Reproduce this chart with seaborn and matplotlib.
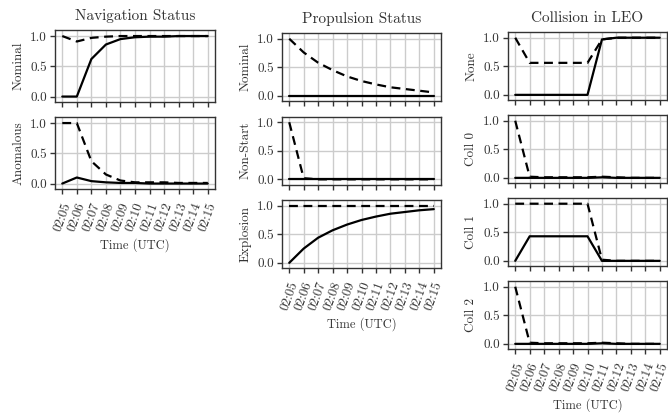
import numpy as np
import pandas as pd
import matplotlib
matplotlib.use("Agg")
import matplotlib.pyplot as plt
import seaborn as sns

# time axis
times = ["02:05", "02:06", "02:07", "02:08", "02:09", "02:10",
         "02:11", "02:12", "02:13", "02:14", "02:15"]

# navigation status
nav_nominal_solid = [0.0, 0.0, 0.62, 0.86, 0.95, 0.98, 0.99, 0.99, 1.0, 1.0, 1.0]
nav_nominal_dash = [1.0, 0.91, 0.97, 0.99, 1.0, 1.0, 1.0, 1.0, 1.0, 1.0, 1.0]
nav_anom_solid = [0.0, 0.1, 0.04, 0.02, 0.01, 0.01, 0.0, 0.0, 0.0, 0.0, 0.0]
nav_anom_dash = [1.0, 1.0, 0.37, 0.15, 0.05, 0.02, 0.02, 0.02, 0.01, 0.01, 0.01]

# propulsion status
prop_nominal_solid = [0.0] * 11
prop_nominal_dash = [1.0, 0.76, 0.58, 0.45, 0.34, 0.26, 0.2, 0.15, 0.12, 0.09, 0.06]
prop_nonstart_solid = [0.0] * 11
prop_nonstart_dash = [1.0, 0.02, 0.0, 0.0, 0.0, 0.0, 0.0, 0.0, 0.0, 0.0, 0.0]
prop_expl_solid = [0.0, 0.25, 0.44, 0.57, 0.67, 0.75, 0.81, 0.86, 0.89, 0.92, 0.94]
prop_expl_dash = [1.0] * 11

# collision in LEO
coll_none_solid = [0.0, 0.0, 0.0, 0.0, 0.0, 0.0, 0.97, 1.0, 1.0, 1.0, 1.0]
coll_none_dash = [1.0, 0.56, 0.56, 0.56, 0.56, 0.56, 0.97, 1.0, 1.0, 1.0, 1.0]
coll0_solid = [0.0, 0.0, 0.0, 0.0, 0.0, 0.0, 0.01, 0.0, 0.0, 0.0, 0.0]
coll0_dash = [1.0, 0.02, 0.01, 0.01, 0.01, 0.01, 0.02, 0.01, 0.0, 0.0, 0.0]
coll1_solid = [0.0, 0.43, 0.43, 0.43, 0.43, 0.43, 0.0, 0.0, 0.0, 0.0, 0.0]
coll1_dash = [1.0, 1.0, 1.0, 1.0, 1.0, 1.0, 0.02, 0.0, 0.0, 0.0, 0.0]
coll2_solid = [0.0, 0.0, 0.0, 0.0, 0.0, 0.0, 0.01, 0.0, 0.0, 0.0, 0.0]
coll2_dash = [1.0, 0.02, 0.01, 0.01, 0.01, 0.01, 0.02, 0.01, 0.0, 0.0, 0.0]

columns = [
    ("Navigation Status", [("Nominal", nav_nominal_solid, nav_nominal_dash),
                           ("Anomalous", nav_anom_solid, nav_anom_dash)]),
    ("Propulsion Status", [("Nominal", prop_nominal_solid, prop_nominal_dash),
                           ("Non-Start", prop_nonstart_solid, prop_nonstart_dash),
                           ("Explosion", prop_expl_solid, prop_expl_dash)]),
    ("Collision in LEO", [("None", coll_none_solid, coll_none_dash),
                          ("Coll 0", coll0_solid, coll0_dash),
                          ("Coll 1", coll1_solid, coll1_dash),
                          ("Coll 2", coll2_solid, coll2_dash)]),
]

sns.set_theme(style="ticks")
plt.rcParams['font.family'] = ['cmr10', 'DejaVu Serif']
plt.rcParams['axes.formatter.use_mathtext'] = True
plt.rcParams['axes.unicode_minus'] = False

W, H = 668, 415
fig = plt.figure(figsize=(W / 100, H / 100), dpi=100)

# pixel layout per column: left, right, first top, height, pitch
layout = [(55, 215, 30, 72, 87), (282, 441, 33, 68, 83.5), (508, 667, 32, 68, 83)]

idx = np.arange(len(times))
for (title, rows), (l, r, top, h, pitch) in zip(columns, layout):
    n = len(rows)
    for i, (name, solid, dash) in enumerate(rows):
        t = top + i * pitch
        ax = fig.add_axes([l / W, 1 - (t + h) / H, (r - l) / W, h / H])
        df = pd.DataFrame({"t": idx, "solid": solid, "dash": dash})
        sns.lineplot(data=df, x="t", y="solid", ax=ax, color="black", lw=1.6)
        sns.lineplot(data=df, x="t", y="dash", ax=ax, color="black", lw=1.6,
                     linestyle=(0, (4, 2.5)))
        ax.set_xlim(-0.5, 10.5)
        ax.set_ylim(-0.09, 1.1)
        ax.set_yticks([0.0, 0.5, 1.0])
        ax.set_yticklabels(["0.0", "0.5", "1.0"])
        ax.set_xticks(idx)
        ax.grid(True, color="#cccccc", lw=1.0)
        for s in ax.spines.values():
            s.set_color("#333333")
            s.set_linewidth(1.0)
        ax.tick_params(axis="both", labelsize=9.5, length=3.5, width=1.0,
                       color="#333333", labelcolor="#333333", pad=2.5)
        ax.tick_params(axis="x", pad=5)
        ax.set_ylabel(name, fontsize=9.5, color="#333333", labelpad=4)
        if i == n - 1:
            ax.set_xticklabels(times, rotation=70, fontsize=9.5)
            ax.set_xlabel("Time (UTC)", fontsize=9, color="#333333", labelpad=4)
        else:
            ax.set_xticklabels([])
            ax.set_xlabel("")
        if i == 0:
            ax.set_title(title, fontsize=11, pad=7, color="#333333")

fig.savefig("out.png", dpi=100)
